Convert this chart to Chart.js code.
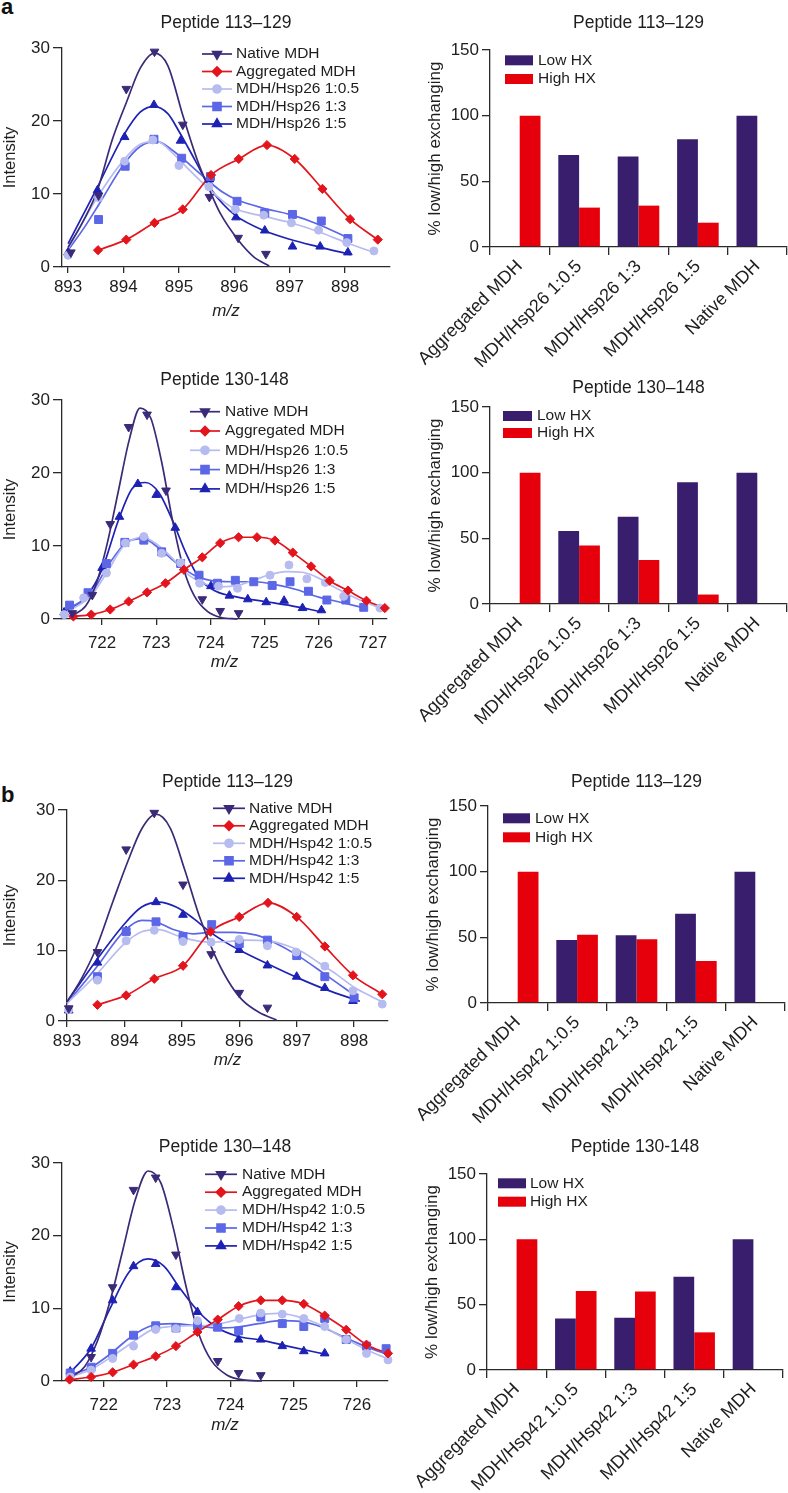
<!DOCTYPE html>
<html>
<head>
<meta charset="utf-8">
<script src="https://cdn.jsdelivr.net/npm/chart.js@4.4.1/dist/chart.umd.min.js"></script>
<style>
  html, body { margin: 0; padding: 0; background: #fff; }
  body { width: 788px; height: 1493px; position: relative; overflow: hidden;
         font-family: "Liberation Sans", Arial, Helvetica, sans-serif; }
  canvas { position: absolute; }
  .tag { position: absolute; font-weight: bold; font-size: 22px; line-height: 1; color: #111; }
</style>
</head>
<body>
<div class="tag" style="left:1px; top:-4px">a</div>
<div class="tag" style="left:1px; top:784px">b</div>
<script>
// ---------- tick labels / categories ----------
const mzTicksA1 = [893, 894, 895, 896, 897, 898];
const mzTicksA2 = [722, 723, 724, 725, 726, 727];
const mzTicksB1 = [893, 894, 895, 896, 897, 898];
const mzTicksB2 = [722, 723, 724, 725, 726];
const intensityTicks = [0, 10, 20, 30];
const percentTicks = [0, 50, 100, 150];

const namesHsp26 = ["Native MDH", "Aggregated MDH", "MDH/Hsp26 1:0.5", "MDH/Hsp26 1:3", "MDH/Hsp26 1:5"];
const namesHsp42 = ["Native MDH", "Aggregated MDH", "MDH/Hsp42 1:0.5", "MDH/Hsp42 1:3", "MDH/Hsp42 1:5"];
const barCatsHsp26 = ["Aggregated MDH", "MDH/Hsp26 1:0.5", "MDH/Hsp26 1:3", "MDH/Hsp26 1:5", "Native MDH"];
const barCatsHsp42 = ["Aggregated MDH", "MDH/Hsp42 1:0.5", "MDH/Hsp42 1:3", "MDH/Hsp42 1:5", "Native MDH"];
const barSeries = ["Low HX", "High HX"];

// ---------- bar values (% low / high exchanging) ----------
const lowA1 = [0, 70, 69, 82, 100];
const highA1 = [100, 30, 31.5, 18.5, 0];
const lowA2 = [0, 55.5, 66.5, 92.7, 100];
const highA2 = [100, 44.5, 33.5, 7.2, 0];
const lowB1 = [0, 48, 51.5, 68, 100];
const highB1 = [100, 52, 48.5, 32, 0];
const lowB2 = [0, 39.5, 40, 71.3, 100];
const highB2 = [100, 60.5, 60, 28.8, 0];

// ---------- spectra: a, peptide 113-129 ----------
const a1NativePts = [[893.05,2.0],[893.55,9.8],[894.05,24.4],[894.56,29.5],[895.07,19.5],[895.55,9.6],[896.07,4.0],[896.57,1.8]];
const a1NativeFit = [[893.0,2.7],[893.28,6.4],[893.52,10.3],[893.8,17.5],[894.05,22.5],[894.3,27.2],[894.56,29.3],[894.8,27.6],[895.07,20.8],[895.33,14.7],[895.55,10.6],[895.75,7.3],[896.07,3.7],[896.35,1.4],[896.63,0.15]];
const a1AggPts = [[893.54,2.3],[894.05,3.75],[894.56,6.05],[895.07,7.9],[895.58,12.6],[896.08,14.8],[896.59,16.7],[897.09,14.8],[897.59,10.7],[898.09,6.55],[898.59,3.75]];
const a1LowPts = [[893.0,1.6],[893.55,9.5],[894.02,14.5],[894.53,17.4],[895.0,13.9],[895.54,11.0],[896.02,7.9],[896.53,7.1],[897.03,6.05],[897.52,5.05],[898.03,3.35],[898.52,2.2]];
const a1LowFit = [[893.0,2.5],[893.5,9.2],[894.0,14.6],[894.3,16.8],[894.6,17.2],[894.9,15.5],[895.2,13.2],[895.5,11.0],[895.8,9.0],[896.0,8.0],[896.5,7.0],[897.0,6.1],[897.5,4.9],[898.0,3.4],[898.55,1.9]];
const a1MidPts = [[893.55,6.5],[894.03,13.8],[894.55,17.5],[895.05,14.9],[895.57,12.4],[896.05,9.0],[896.55,7.4],[897.05,7.2],[897.57,6.3],[898.05,3.9]];
const a1MidFit = [[893.0,2.3],[893.3,5.5],[893.55,8.5],[894.0,14.0],[894.3,16.5],[894.6,17.2],[894.9,15.9],[895.2,14.0],[895.5,12.0],[895.8,10.2],[896.05,9.2],[896.5,8.1],[897.0,7.2],[897.5,5.9],[898.05,4.0]];
const a1HighPts = [[893.0,2.0],[893.53,10.5],[894.02,17.8],[894.55,22.2],[895.03,17.3],[895.55,12.0],[896.03,6.8],[896.55,5.0],[897.05,2.8],[897.55,2.8],[898.05,2.0]];
const a1HighFit = [[893.0,3.2],[893.5,10.5],[894.0,18.0],[894.3,21.2],[894.55,22.0],[894.8,21.0],[895.0,18.6],[895.3,14.5],[895.55,11.0],[895.8,8.6],[896.03,7.0],[896.5,5.1],[897.0,3.8],[897.5,2.8],[898.1,1.7]];

// ---------- spectra: a, peptide 130-148 ----------
const a2NativePts = [[721.45,0.8],[721.82,3.3],[722.15,13.0],[722.49,26.3],[722.83,28.0],[723.18,17.6],[723.85,2.7],[724.18,1.1],[724.52,0.8]];
const a2NativeFit = [[721.45,0.5],[721.7,1.8],[721.9,5],[722.1,10.5],[722.3,17.5],[722.5,24.5],[722.7,28.9],[722.9,27.5],[723.1,21.5],[723.3,13.5],[723.5,7],[723.7,3.2],[723.95,1.0],[724.2,0.2],[724.5,0]];
const a2AggPts = [[721.47,0.35],[721.8,0.6],[722.15,1.3],[722.49,2.4],[722.83,3.65],[723.17,4.9],[723.51,6.75],[723.85,8.45],[724.18,10.4],[724.52,11.2],[724.86,11.2],[725.19,10.75],[725.52,9.1],[725.86,7.2],[726.2,5.25],[726.54,3.9],[726.88,2.5],[727.22,1.5]];
const a2LowPts = [[721.3,0.6],[721.66,2.9],[722.08,6.3],[722.43,10.4],[722.77,11.3],[723.1,9.0],[723.45,7.7],[723.8,4.9],[724.15,4.5],[724.5,4.2],[725.1,6.0],[725.45,7.4],[725.78,5.5],[726.12,5.0],[726.46,3.1],[727.13,1.5]];
const a2LowFit = [[721.3,0.8],[721.8,3.2],[722.1,6.5],[722.4,10.0],[722.75,11.2],[723.0,10.3],[723.3,8.3],[723.6,6.0],[723.9,4.8],[724.2,4.4],[724.5,4.6],[724.8,5.3],[725.1,6.1],[725.4,6.5],[725.7,6.4],[726.0,5.6],[726.3,4.3],[726.7,2.8],[727.1,1.6]];
const a2MidPts = [[721.4,1.9],[721.74,3.6],[722.08,7.6],[722.42,10.5],[722.77,10.8],[723.1,9.2],[723.45,7.6],[723.79,6.0],[724.13,4.9],[724.46,5.3],[724.8,5.1],[725.14,4.6],[725.47,5.1],[725.81,3.8],[726.15,2.6],[726.5,2.6],[726.83,1.6]];
const a2MidFit = [[721.4,1.5],[721.8,3.5],[722.1,7.2],[722.45,10.5],[722.75,11.0],[723.05,9.7],[723.35,7.8],[723.7,6.0],[724.0,5.3],[724.4,5.1],[724.8,5.1],[725.2,4.7],[725.6,4.0],[726.0,3.0],[726.4,2.3],[726.85,1.5]];
const a2HighPts = [[721.3,0.9],[722.0,7.0],[722.32,14.0],[722.66,18.5],[723.0,17.0],[723.35,12.5],[724.01,4.5],[724.35,3.2],[724.69,2.7],[725.03,2.3],[725.36,2.5],[725.7,1.5],[726.05,1.2]];
const a2HighFit = [[721.3,1.0],[721.7,3.0],[722.0,6.8],[722.3,13.5],[722.55,17.8],[722.8,18.7],[723.05,17.3],[723.3,13.5],[723.55,9.0],[723.8,5.5],[724.1,3.8],[724.5,3.0],[725.0,2.4],[725.5,1.8],[726.05,1.0]];

// ---------- spectra: b, peptide 113-129 ----------
const b1NativePts = [[893.03,1.8],[893.53,9.8],[894.03,24.4],[894.52,29.6],[895.02,19.4],[895.51,9.5],[896.0,4.0],[896.49,1.9]];
const b1NativeFit = [[893.0,2.7],[893.25,6],[893.5,10.2],[893.8,17],[894.05,22.5],[894.3,27.3],[894.55,29.4],[894.8,27.4],[895.05,21.5],[895.3,15],[895.55,9.8],[895.8,5.8],[896.05,3.0],[896.35,1.2],[896.65,0.15]];
const b1AggPts = [[893.53,2.3],[894.03,3.65],[894.52,6.0],[895.02,7.85],[895.5,12.7],[896.0,14.8],[896.5,16.8],[897.0,14.8],[897.49,10.6],[897.98,6.5],[898.49,3.8]];
const b1LowPts = [[893.03,1.6],[893.53,5.8],[894.03,11.4],[894.52,12.9],[895.02,11.3],[895.51,11.2],[896.0,11.6],[896.49,10.7],[896.99,9.8],[897.49,7.8],[897.98,4.3],[898.49,2.4]];
const b1LowFit = [[893.0,2.5],[893.5,6.5],[894.0,11.0],[894.3,12.7],[894.6,13.0],[894.9,12.2],[895.2,11.5],[895.5,11.2],[895.8,11.3],[896.1,11.5],[896.5,11.4],[896.8,10.8],[897.1,9.8],[897.4,8.2],[897.7,6.6],[898.0,4.8],[898.3,3.5],[898.55,2.5]];
const b1MidPts = [[893.53,6.3],[894.03,12.7],[894.55,14.1],[895.02,12.0],[895.52,13.7],[896.0,11.0],[896.49,11.5],[897.0,9.3],[897.49,6.3],[898.0,3.3]];
const b1MidFit = [[893.0,2.5],[893.5,7.5],[894.0,12.8],[894.3,14.3],[894.55,14.1],[894.85,13.0],[895.2,12.4],[895.5,12.6],[895.9,12.6],[896.3,12.2],[896.6,11.2],[897.0,9.4],[897.5,6.6],[898.05,3.4]];
const b1HighPts = [[893.03,1.5],[893.53,8.3],[894.03,12.8],[894.55,16.9],[895.02,15.1],[896.0,10.1],[896.49,7.9],[897.0,6.3],[897.49,4.7],[897.98,2.85]];
const b1HighFit = [[893.0,2.7],[893.5,8.5],[894.0,13.8],[894.3,16.2],[894.6,16.9],[894.9,16.2],[895.2,14.6],[895.5,12.6],[895.8,11.0],[896.0,10.1],[896.5,8.1],[897.0,6.2],[897.5,4.5],[898.1,2.8]];

// ---------- spectra: b, peptide 130-148 ----------
const b2NativePts = [[721.8,3.3],[722.14,12.9],[722.47,26.3],[722.82,28.0],[723.14,17.4],[723.8,2.75],[724.13,1.1],[724.48,0.8]];
const b2NativeFit = [[721.5,0.6],[721.7,2],[721.9,5.5],[722.1,11],[722.3,18],[722.5,25],[722.7,28.9],[722.9,27.3],[723.1,21],[723.3,13],[723.5,6.5],[723.7,2.8],[723.95,0.8],[724.2,0.15],[724.5,0]];
const b2AggPts = [[721.46,0.2],[721.8,0.55],[722.14,1.2],[722.47,2.25],[722.82,3.4],[723.14,4.8],[723.48,6.75],[723.8,8.45],[724.13,10.3],[724.48,11.1],[724.82,11.1],[725.16,10.6],[725.49,9.0],[725.83,7.05],[726.15,5.0],[726.49,3.8]];
const b2LowPts = [[721.47,0.55],[721.8,1.5],[722.14,3.1],[722.47,4.8],[722.82,7.1],[723.14,7.2],[723.48,8.3],[724.14,8.6],[724.48,9.35],[724.82,9.2],[725.16,8.6],[725.49,7.5],[725.83,5.7],[726.15,3.8],[726.49,2.9]];
const b2LowFit = [[721.45,0.5],[721.8,1.6],[722.1,3.2],[722.45,5.3],[722.75,7.0],[723.05,7.5],[723.35,7.6],[723.7,7.7],[724.0,8.2],[724.4,9.0],[724.75,9.3],[725.05,8.9],[725.4,7.8],[725.8,5.9],[726.15,4.3],[726.5,3.0]];
const b2MidPts = [[721.47,1.1],[721.8,1.9],[722.14,3.8],[722.47,6.3],[722.82,7.6],[723.14,7.3],[723.48,7.6],[723.8,7.4],[724.13,6.9],[724.48,8.8],[724.82,7.9],[725.16,7.5],[725.49,8.6],[725.83,5.7],[726.15,4.8],[726.46,4.45]];
const b2MidFit = [[721.45,0.8],[721.8,1.9],[722.1,3.7],[722.45,6.2],[722.75,7.6],[723.1,7.9],[723.45,7.6],[723.8,7.3],[724.1,7.4],[724.45,7.9],[724.8,8.3],[725.1,8.2],[725.45,7.4],[725.8,6.0],[726.15,4.7],[726.5,3.6]];
const b2HighPts = [[721.47,1.3],[721.8,4.45],[722.14,11.1],[722.47,15.8],[722.82,16.1],[723.14,12.9],[723.48,9.5],[723.8,7.3],[724.13,5.7],[724.48,5.7],[724.82,4.8],[725.16,4.1],[725.49,3.8]];
const b2HighFit = [[721.45,1.0],[721.8,4.5],[722.1,10.0],[722.4,15.0],[722.7,16.8],[722.95,15.8],[723.2,12.8],[723.5,9.5],[723.8,7.3],[724.1,6.2],[724.5,5.6],[724.9,4.8],[725.55,3.6]];

// ---------- styles ----------
const FONT = '"Liberation Sans", Arial, Helvetica, sans-serif';
const INK = "#1e1e1e";
const AXIS = "#2a2a2a";
const LOW_HX = "#381e6c";
const HIGH_HX = "#e6000c";
const TICK_SIZE = 17;
const LEGEND_SIZE = 15.5;
const SERIES_STYLE = [
  { color: "#3b2a78", style: "triangle", rot: 180, r: 5 },
  { color: "#e3141c", style: "rectRot", rot: 0, r: 4.6 },
  { color: "#b7bcf0", style: "circle", rot: 0, r: 4 },
  { color: "#5b67e6", style: "rect", rot: 0, r: 5.6 },
  { color: "#1d22b5", style: "triangle", rot: 0, r: 5 }
];

function makeCanvas(box) {
  const c = document.createElement("canvas");
  c.width = box.w; c.height = box.h;
  c.style.left = box.x + "px"; c.style.top = box.y + "px";
  c.style.width = box.w + "px"; c.style.height = box.h + "px";
  document.body.appendChild(c);
  return c;
}

// paddings so the plot area lands where it sits in the figure
function frame(p, titleSize) {
  const lh = titleSize * 1.2;
  const tTop = p.titleY - p.box.y - lh / 2;
  return {
    padding: { left: 0, top: 0, right: p.box.x + p.box.w - p.area.right, bottom: 0 },
    yWidth: p.area.left - p.box.x,
    xHeight: p.box.y + p.box.h - p.area.bottom,
    titlePad: { top: tTop, bottom: p.area.top - p.box.y - tTop - lh }
  };
}

function drawMarker(ctx, st, x, y) {
  ctx.fillStyle = st.color; ctx.strokeStyle = st.color;
  if (Chart.helpers && Chart.helpers.drawPoint) {
    Chart.helpers.drawPoint(ctx, { pointStyle: st.style, rotation: st.rot, radius: st.r, borderWidth: 1 }, x, y);
  } else {
    ctx.beginPath(); ctx.arc(x, y, st.r, 0, Math.PI * 2); ctx.fill();
  }
}

function legendPlugin(p, kind, names, colors) {
  return {
    id: "panelLegend",
    afterDraw(chart) {
      const L = p.legend, ctx = chart.ctx;
      ctx.save();
      ctx.font = LEGEND_SIZE + "px " + FONT;
      ctx.textBaseline = "middle";
      ctx.textAlign = "left";
      names.forEach((name, i) => {
        const y = L.rows[i] - p.box.y;
        const x1 = L.x1 - p.box.x, x2 = L.x2 - p.box.x;
        if (kind === "line") {
          const st = SERIES_STYLE[i];
          ctx.strokeStyle = st.color; ctx.lineWidth = 1.7;
          ctx.beginPath(); ctx.moveTo(x1, y); ctx.lineTo(x2, y); ctx.stroke();
          drawMarker(ctx, st, (x1 + x2) / 2, y);
        } else {
          ctx.fillStyle = colors[i];
          ctx.fillRect(x1, y - 5, x2 - x1, 10);
        }
        ctx.fillStyle = INK;
        ctx.fillText(name, L.tx - p.box.x, y);
      });
      ctx.restore();
    }
  };
}

function axisBase(tickLength) {
  return {
    grid: { display: true, drawOnChartArea: false, drawTicks: true, tickLength: tickLength, color: AXIS, lineWidth: 1.3 },
    border: { display: true, color: AXIS, width: 1.3 }
  };
}

function lineChart(p) {
  const f = frame(p, 17.5);
  const halfTick = TICK_SIZE * 0.6;
  const datasets = [];
  p.series.forEach((s, i) => {
    const st = SERIES_STYLE[i];
    datasets.push({
      label: p.names[i] + " fit",
      data: s.fit.map(([x, y]) => ({ x, y })),
      showLine: true, borderColor: st.color, borderWidth: 1.7, pointRadius: 0,
      cubicInterpolationMode: "monotone", order: 2, clip: false
    });
    datasets.push({
      label: p.names[i],
      data: s.pts.map(([x, y]) => ({ x, y })),
      showLine: false, pointStyle: st.style, pointRotation: st.rot, pointRadius: st.r,
      backgroundColor: st.color, borderColor: st.color, borderWidth: 1, order: 1, clip: false
    });
  });
  new Chart(makeCanvas(p.box), {
    type: "scatter",
    data: { datasets },
    options: {
      responsive: false, animation: false, devicePixelRatio: 1,
      layout: { padding: f.padding },
      plugins: {
        legend: { display: false }, tooltip: { enabled: false },
        title: { display: true, text: p.title, fullSize: false, color: INK,
                 font: { size: 17.5, family: FONT, weight: "normal" }, padding: f.titlePad }
      },
      scales: {
        x: Object.assign(axisBase(6), {
          type: "linear", min: p.xRange[0], max: p.xRange[1],
          afterBuildTicks: sc => { sc.ticks = p.xTicks.map(v => ({ value: v })); },
          afterFit: sc => { sc.height = f.xHeight; },
          ticks: { font: { size: TICK_SIZE, family: FONT }, color: INK, maxRotation: 0, autoSkip: false,
                   padding: p.xTickY - p.area.bottom - 6 - halfTick },
          title: { display: true, text: "m/z", color: INK, font: { size: 17, family: FONT, style: "italic" },
                   padding: { top: 0, bottom: p.box.y + p.box.h - p.xTitleY - 10.2 } }
        }),
        y: Object.assign(axisBase(9), {
          min: 0, max: 30,
          afterBuildTicks: sc => { sc.ticks = intensityTicks.map(v => ({ value: v })); },
          afterFit: sc => { sc.width = f.yWidth; },
          ticks: { font: { size: TICK_SIZE, family: FONT }, color: INK, padding: 3 },
          title: { display: true, text: "Intensity", color: INK, font: { size: 16.5, family: FONT },
                   padding: { top: p.yTitleX - p.box.x - 9.9, bottom: 0 } }
        })
      }
    },
    plugins: [legendPlugin(p, "line", p.names)]
  });
}

function barChart(p) {
  const f = frame(p, 17.5);
  new Chart(makeCanvas(p.box), {
    type: "bar",
    data: {
      labels: p.cats,
      datasets: [
        { label: barSeries[0], data: p.low, backgroundColor: LOW_HX },
        { label: barSeries[1], data: p.high, backgroundColor: HIGH_HX }
      ]
    },
    options: {
      responsive: false, animation: false, devicePixelRatio: 1,
      layout: { padding: f.padding },
      datasets: { bar: { categoryPercentage: 0.7, barPercentage: 1 } },
      plugins: {
        legend: { display: false }, tooltip: { enabled: false },
        title: { display: true, text: p.title, fullSize: false, color: INK,
                 font: { size: 17.5, family: FONT, weight: "normal" }, padding: f.titlePad }
      },
      scales: {
        x: Object.assign(axisBase(8), {
          afterFit: sc => { sc.height = f.xHeight; },
          ticks: { font: { size: 18, family: FONT }, color: INK, minRotation: 45, maxRotation: 45,
                   autoSkip: false, padding: 1 }
        }),
        y: Object.assign(axisBase(8), {
          min: 0, max: 150,
          afterBuildTicks: sc => { sc.ticks = percentTicks.map(v => ({ value: v })); },
          afterFit: sc => { sc.width = f.yWidth; },
          ticks: { font: { size: TICK_SIZE, family: FONT }, color: INK, padding: 3 },
          title: { display: true, text: "% low/high exchanging", color: INK, font: { size: 17, family: FONT },
                   padding: { top: p.yTitleX - p.box.x - 10.2, bottom: 0 } }
        })
      }
    },
    plugins: [legendPlugin(p, "bar", barSeries, [LOW_HX, HIGH_HX])]
  });
}

lineChart({
  title: "Peptide 113\u2013129", names: namesHsp26, xTicks: mzTicksA1, xRange: [892.89, 898.81],
  series: [
    { pts: a1NativePts, fit: a1NativeFit }, { pts: a1AggPts, fit: a1AggPts },
    { pts: a1LowPts, fit: a1LowFit }, { pts: a1MidPts, fit: a1MidFit }, { pts: a1HighPts, fit: a1HighFit }
  ],
  box: { x: 0, y: 0, w: 400, h: 323 }, area: { left: 62, top: 48, right: 390, bottom: 267 },
  titleY: 23, xTitleY: 311, yTitleX: 10, xTickY: 287.5,
  legend: { x1: 202, x2: 232, tx: 236, rows: [54, 71.5, 89, 106.5, 124] }
});
lineChart({
  title: "Peptide 130-148", names: namesHsp26, xTicks: mzTicksA2, xRange: [721.26, 727.26],
  series: [
    { pts: a2NativePts, fit: a2NativeFit }, { pts: a2AggPts, fit: a2AggPts },
    { pts: a2LowPts, fit: a2LowFit }, { pts: a2MidPts, fit: a2MidFit }, { pts: a2HighPts, fit: a2HighFit }
  ],
  box: { x: 0, y: 362, w: 400, h: 313 }, area: { left: 62, top: 400, right: 387, bottom: 619 },
  titleY: 380, xTitleY: 662, yTitleX: 10, xTickY: 643.5,
  legend: { x1: 190, x2: 220, tx: 225, rows: [411.7, 431, 450.3, 469.6, 488.9] }
});
lineChart({
  title: "Peptide 113\u2013129", names: namesHsp42, xTicks: mzTicksB1, xRange: [893, 898.59],
  series: [
    { pts: b1NativePts, fit: b1NativeFit }, { pts: b1AggPts, fit: b1AggPts },
    { pts: b1LowPts, fit: b1LowFit }, { pts: b1MidPts, fit: b1MidFit }, { pts: b1HighPts, fit: b1HighFit }
  ],
  box: { x: 0, y: 765, w: 400, h: 307 }, area: { left: 67, top: 810, right: 388, bottom: 1021 },
  titleY: 782, xTitleY: 1060, yTitleX: 10, xTickY: 1041.5,
  legend: { x1: 213, x2: 245, tx: 249, rows: [808.3, 825.8, 843.3, 860.8, 878.3] }
});
lineChart({
  title: "Peptide 130\u2013148", names: namesHsp42, xTicks: mzTicksB2, xRange: [721.34, 726.49],
  series: [
    { pts: b2NativePts, fit: b2NativeFit }, { pts: b2AggPts, fit: b2AggPts },
    { pts: b2LowPts, fit: b2LowFit }, { pts: b2MidPts, fit: b2MidFit }, { pts: b2HighPts, fit: b2HighFit }
  ],
  box: { x: 0, y: 1130, w: 400, h: 307 }, area: { left: 62, top: 1163, right: 388, bottom: 1381 },
  titleY: 1147, xTitleY: 1425, yTitleX: 10, xTickY: 1405,
  legend: { x1: 205, x2: 237, tx: 242, rows: [1174.3, 1192.2, 1210.1, 1228, 1245.9] }
});

barChart({
  title: "Peptide 113\u2013129", cats: barCatsHsp26, low: lowA1, high: highA1,
  box: { x: 390, y: 0, w: 398, h: 380 }, area: { left: 490, top: 50, right: 787, bottom: 247 },
  titleY: 23, yTitleX: 435,
  legend: { x1: 505, x2: 533, tx: 538, rows: [60.3, 79] }
});
barChart({
  title: "Peptide 130\u2013148", cats: barCatsHsp26, low: lowA2, high: highA2,
  box: { x: 390, y: 362, w: 398, h: 400 }, area: { left: 490, top: 407, right: 787, bottom: 604 },
  titleY: 388, yTitleX: 435,
  legend: { x1: 503, x2: 532, tx: 537, rows: [416, 433] }
});
barChart({
  title: "Peptide 113\u2013129", cats: barCatsHsp42, low: lowB1, high: highB1,
  box: { x: 390, y: 765, w: 398, h: 370 }, area: { left: 488, top: 806, right: 785, bottom: 1003 },
  titleY: 782, yTitleX: 433,
  legend: { x1: 503, x2: 530, tx: 535, rows: [818.3, 837.3] }
});
barChart({
  title: "Peptide 130-148", cats: barCatsHsp42, low: lowB2, high: highB2,
  box: { x: 390, y: 1130, w: 398, h: 363 }, area: { left: 487, top: 1174, right: 783, bottom: 1370 },
  titleY: 1147, yTitleX: 432,
  legend: { x1: 498, x2: 526, tx: 530, rows: [1183.3, 1201.7] }
});
</script>
</body>
</html>
